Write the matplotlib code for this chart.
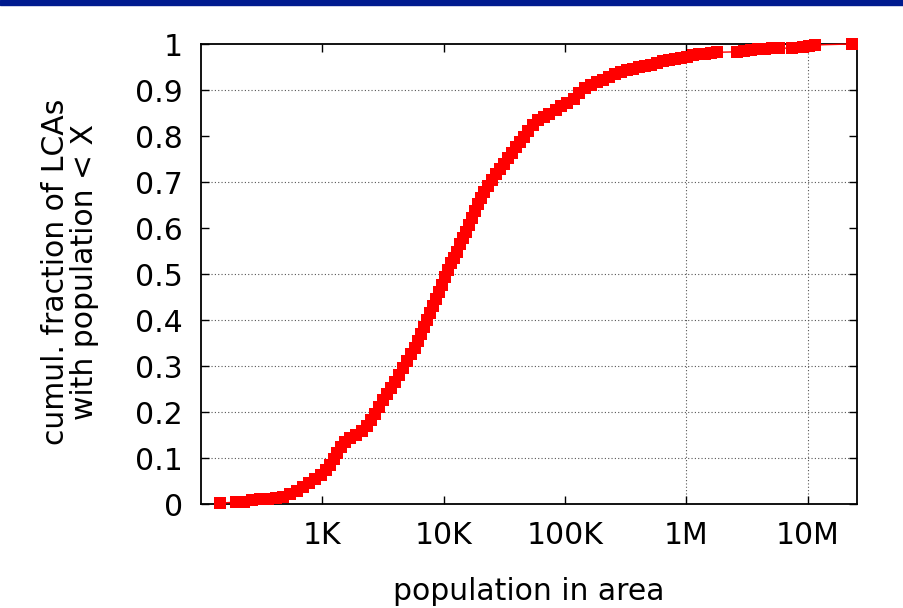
import matplotlib
matplotlib.use("Agg")
import matplotlib.pyplot as plt
from matplotlib.patches import Rectangle

plt.rcParams['font.family'] = ['DejaVu Sans']

# population of area
pop = [143, 194, 226, 263, 306, 356, 414, 473, 540, 617,
       691, 774, 867, 972, 1069, 1153, 1244, 1316, 1420, 1532,
       1684, 1887, 2115, 2323, 2507, 2705, 2918, 3148, 3396, 3664,
       3953, 4264, 4600, 4962, 5354, 5776, 6109, 6467, 6844, 7244,
       7667, 8115, 8589, 9091, 9622, 10185, 10780, 11410, 12076, 12782,
       13529, 14319, 15156, 16041, 16980, 17970, 19020, 20160, 21330, 23020,
       24840, 26800, 28920, 31200, 33660, 36310, 39160, 42220, 45530, 49130,
       54020, 59380, 66530, 74500, 83500, 93560, 104850, 117500, 131600, 147500,
       165200, 185100, 207400, 232300, 260400, 291700, 326800, 366200, 410300, 459800,
       515200, 577300, 646700, 724600, 811900, 909600, 1.019e6, 1.142e6, 1.279e6, 1.433e6,
       1.606e6, 1.799e6, 2.63e6, 3.0e6, 3.43e6, 3.915e6, 4.47e6, 5.10e6, 5.82e6, 7.45e6,
       9.18e6, 1.028e7, 1.153e7, 2.32e7]

# cumulative fraction of LCAs
frac = [0.002, 0.004, 0.005, 0.008, 0.010, 0.011, 0.013, 0.016, 0.022, 0.029,
        0.037, 0.046, 0.054, 0.063, 0.074, 0.085, 0.098, 0.111, 0.124, 0.135,
        0.143, 0.150, 0.159, 0.170, 0.183, 0.196, 0.211, 0.226, 0.239, 0.252,
        0.265, 0.280, 0.296, 0.311, 0.326, 0.339, 0.354, 0.370, 0.385, 0.400,
        0.415, 0.430, 0.446, 0.461, 0.476, 0.493, 0.509, 0.524, 0.535, 0.548,
        0.565, 0.578, 0.591, 0.607, 0.622, 0.637, 0.652, 0.665, 0.678, 0.691,
        0.704, 0.717, 0.728, 0.739, 0.752, 0.763, 0.776, 0.787, 0.798, 0.811,
        0.824, 0.835, 0.841, 0.848, 0.857, 0.865, 0.872, 0.880, 0.893, 0.904,
        0.911, 0.917, 0.922, 0.928, 0.935, 0.939, 0.943, 0.946, 0.950, 0.952,
        0.954, 0.959, 0.963, 0.965, 0.967, 0.970, 0.972, 0.976, 0.978, 0.979,
        0.980, 0.982, 0.983, 0.985, 0.987, 0.989, 0.990, 0.991, 0.991, 0.991,
        0.993, 0.996, 0.998, 1.000]

xticks = [1e3, 1e4, 1e5, 1e6, 1e7]
xticklabels = ['1K', '10K', '100K', '1M', '10M']
yticks = [0, 0.1, 0.2, 0.3, 0.4, 0.5, 0.6, 0.7, 0.8, 0.9, 1]
yticklabels = ['0', '0.1', '0.2', '0.3', '0.4', '0.5', '0.6', '0.7', '0.8', '0.9', '1']
# grid lines that are visible in the original
ygrid = [0.1, 0.2, 0.3, 0.4, 0.5, 0.7, 0.9]
xgrid = [1e6, 1e7]

fig = plt.figure(figsize=(9.04, 6.08), dpi=100)
ax = fig.add_axes([201/904, 1-504/608, 656/904, 460/608])

# slide header bar
fig.patches.append(Rectangle((0, 1-5/608), 1, 5/608, transform=fig.transFigure,
                             color='#001B8F', zorder=0))

for g in ygrid:
    ax.axhline(g, color='#555555', lw=0.8, ls=(0, (1, 2)), zorder=1)
for g in xgrid:
    ax.axvline(g, color='#555555', lw=0.8, ls=(0, (1, 2)), zorder=1)

ax.plot(pop, frac, color='#ff0000', lw=1, marker='s', ms=9, mec='#ff0000',
        mew=0, clip_on=False, zorder=3)

ax.set_xscale('log')
ax.set_xlim(100, 2.55e7)
ax.set_ylim(0, 1)
ax.set_xticks(xticks)
ax.set_xticklabels(xticklabels)
ax.set_yticks(yticks)
ax.set_yticklabels(yticklabels)
ax.minorticks_off()
ax.tick_params(direction='in', length=6, width=1, top=True, right=True,
               labelsize=21.5, colors='black')
ax.tick_params(axis='x', pad=12)
ax.tick_params(axis='y', pad=13)
for s in ax.spines.values():
    s.set_linewidth(1.3)

fig.text(70/904, 1-272/608, 'cumul. fraction of LCAs\nwith population < X',
         rotation=90, ha='center', va='center', fontsize=21.5, linespacing=1.0,
         multialignment='center')
fig.text(529/904, 1-592/608, 'population in area', ha='center', va='center',
         fontsize=21.5)

fig.savefig('out.png', dpi=100)
